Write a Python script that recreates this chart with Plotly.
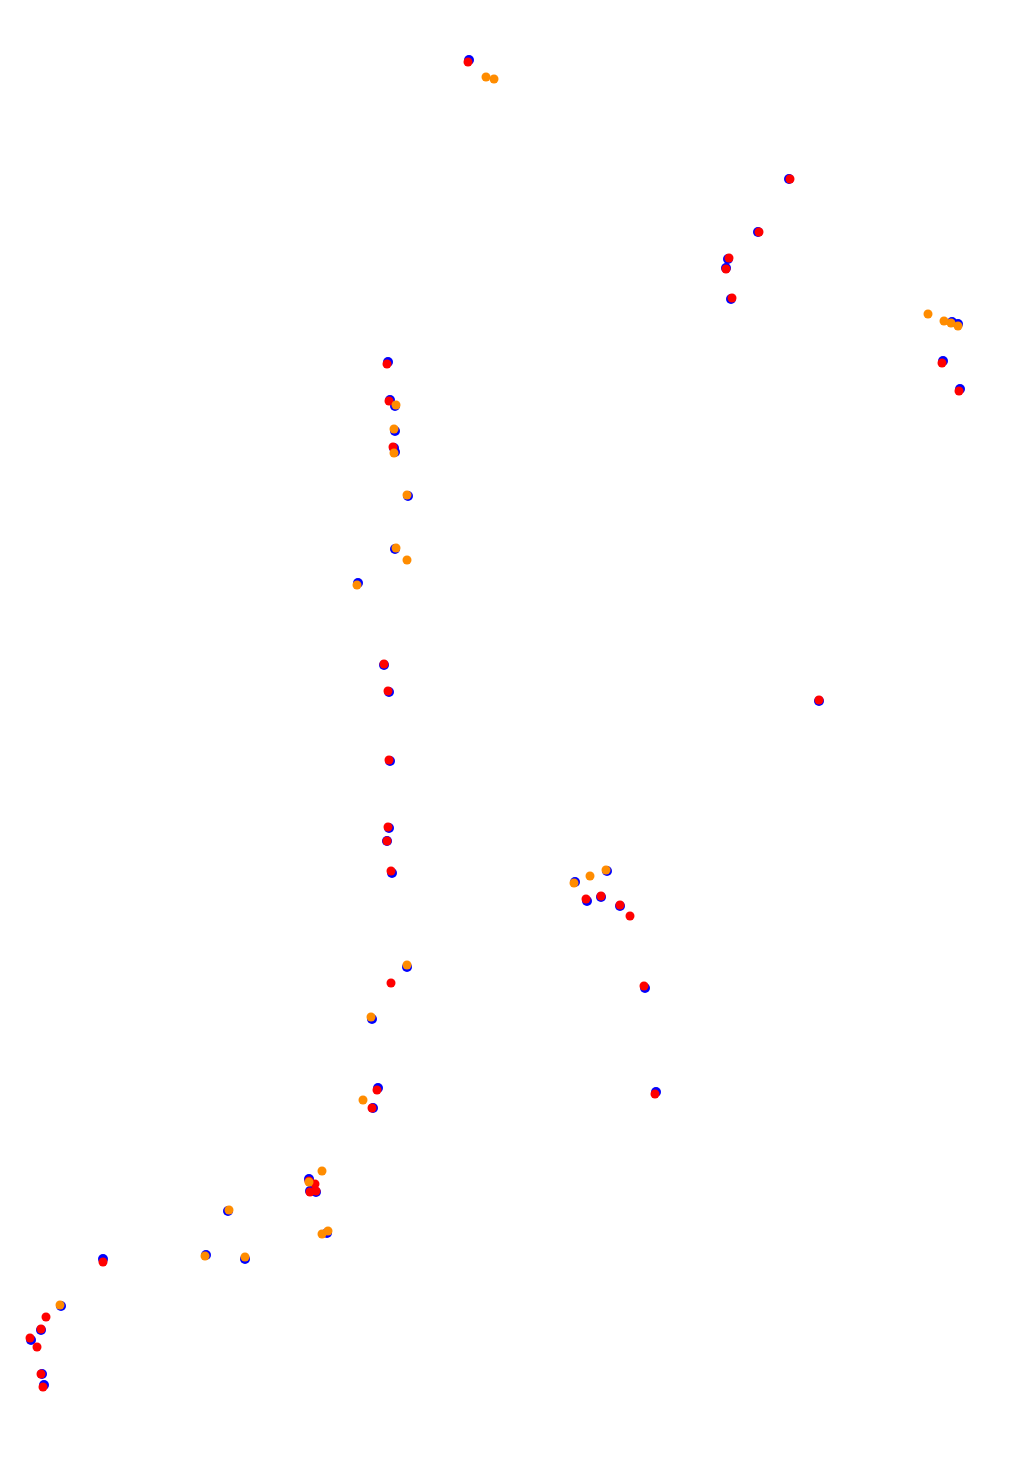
import plotly.graph_objects as go

# Red series
red_x = [468, 790, 759, 729, 726, 732, 942, 959, 387, 389, 393, 384, 388, 389, 388, 387, 391,
         586, 601, 620, 630, 644, 655, 819, 391, 377, 372, 309, 315, 310, 316, 103, 46, 41, 30, 37, 41, 43]
red_y = [62, 179, 232, 258, 269, 298, 363, 391, 364, 401, 447, 664, 691, 760, 827, 841, 871,
         899, 896, 905, 916, 986, 1094, 700, 983, 1090, 1108, 1181, 1184, 1192, 1191, 1262, 1317, 1329, 1338, 1347, 1374, 1387]

# Orange series
orange_x = [486, 494, 928, 944, 951, 958, 396, 394, 394, 407, 396, 407, 357, 574, 590, 606,
            407, 371, 363, 322, 309, 322, 328, 229, 205, 245, 60]
orange_y = [77, 79, 314, 321, 323, 326, 405, 429, 453, 495, 548, 560, 585, 883, 876, 870,
            965, 1017, 1100, 1171, 1182, 1234, 1231, 1210, 1256, 1257, 1305]

# Blue series (underlying)
blue_x = [469, 789, 758, 728, 726, 731, 952, 958, 943, 960, 388, 390, 395, 395, 394, 395, 408, 395, 358,
          384, 389, 390, 389, 387, 392, 575, 607, 587, 601, 620, 645, 656, 819, 407, 372, 378, 373,
          309, 310, 316, 327, 228, 103, 206, 245, 61, 41, 31, 42, 44]
blue_y = [60, 179, 232, 259, 268, 299, 322, 324, 361, 389, 362, 400, 406, 431, 448, 452, 496, 549, 583,
          665, 692, 761, 828, 841, 873, 882, 871, 901, 897, 906, 988, 1092, 701, 967, 1019, 1088, 1108,
          1179, 1191, 1192, 1233, 1211, 1259, 1255, 1259, 1306, 1330, 1340, 1374, 1385]

fig = go.Figure()
fig.add_trace(go.Scatter(x=blue_x, y=blue_y, mode="markers",
                         marker=dict(color="blue", size=10, line=dict(width=0)), hoverinfo="skip"))
fig.add_trace(go.Scatter(x=red_x, y=red_y, mode="markers",
                         marker=dict(color="red", size=9, line=dict(width=0))))
fig.add_trace(go.Scatter(x=orange_x, y=orange_y, mode="markers",
                         marker=dict(color="darkorange", size=9, line=dict(width=0))))

fig.update_layout(
    width=1005, height=1471,
    margin=dict(l=0, r=0, t=0, b=0),
    paper_bgcolor="white", plot_bgcolor="white",
    showlegend=False,
    xaxis=dict(range=[8, 1013], visible=False, fixedrange=True),
    yaxis=dict(range=[1479, 8], visible=False, fixedrange=True),
)
fig.write_html("out.html")
